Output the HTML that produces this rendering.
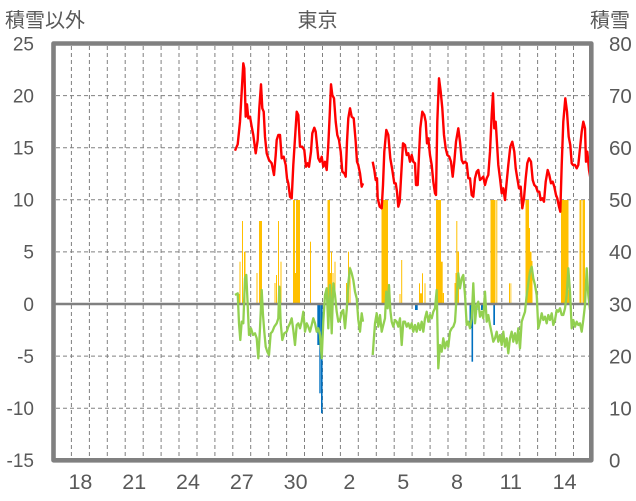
<!DOCTYPE html>
<html><head><meta charset="utf-8"><style>
html,body{margin:0;padding:0;background:#fff;}
svg{display:block;}
text{font-family:"Liberation Sans","Noto Sans CJK JP",sans-serif;fill:#595959;}
</style></head><body>
<svg width="636" height="501" viewBox="0 0 636 501" xmlns="http://www.w3.org/2000/svg">
<rect width="636" height="501" fill="#fff"/>
<text x="5" y="27" font-size="20">積雪以外</text>
<text x="317.5" y="27" font-size="20" text-anchor="middle">東京</text>
<text x="590" y="27" font-size="20">積雪</text>
<path fill="none" stroke="#808080" stroke-width="1" stroke-dasharray="4,3" d="M56 95.6H589M56 147.7H589M56 199.8H589M56 251.9H589M56 356.1H589M56 408.2H589M71.4 46V458M89.4 46V458M107.3 46V458M125.2 46V458M143.2 46V458M161.1 46V458M179 46V458M197 46V458M214.9 46V458M232.8 46V458M250.7 46V458M268.7 46V458M286.6 46V458M304.5 46V458M322.5 46V458M340.4 46V458M358.3 46V458M376.3 46V458M394.2 46V458M412.1 46V458M430.1 46V458M448 46V458M465.9 46V458M483.9 46V458M501.8 46V458M519.7 46V458M537.6 46V458M555.6 46V458M573.5 46V458"/>
<g fill="#FFC000">
<rect x="238.5" y="294" width="1" height="10"/>
<rect x="239.5" y="261.7" width="1" height="42.3"/>
<rect x="242" y="221" width="1" height="83"/>
<rect x="244" y="251.7" width="1.5" height="52.3"/>
<rect x="256.5" y="273" width="1" height="31"/>
<rect x="259" y="221" width="3" height="83"/>
<rect x="274.5" y="283" width="1" height="21"/>
<rect x="276" y="275" width="1" height="29"/>
<rect x="278" y="221" width="1" height="83"/>
<rect x="280.5" y="261.7" width="1" height="42.3"/>
<rect x="293" y="200" width="2" height="104"/>
<rect x="295" y="273" width="1" height="31"/>
<rect x="296" y="200" width="4" height="104"/>
<rect x="310" y="241.7" width="1" height="62.3"/>
<rect x="327.5" y="200" width="2.5" height="104"/>
<rect x="330" y="273" width="1" height="31"/>
<rect x="331" y="251.7" width="1" height="52.3"/>
<rect x="332.5" y="273" width="1" height="31"/>
<rect x="334.5" y="261.7" width="1" height="42.3"/>
<rect x="346" y="283" width="1" height="21"/>
<rect x="348" y="251.7" width="1" height="52.3"/>
<rect x="349.5" y="266.7" width="1" height="37.3"/>
<rect x="381.5" y="200" width="6.5" height="104"/>
<rect x="399.5" y="294" width="1" height="10"/>
<rect x="401.2" y="260" width="1" height="44"/>
<rect x="419" y="283.3" width="1" height="20.7"/>
<rect x="420" y="293.3" width="2" height="10.7"/>
<rect x="422" y="273.3" width="1" height="30.7"/>
<rect x="424.5" y="283.3" width="1" height="20.7"/>
<rect x="436" y="200" width="5" height="104"/>
<rect x="441" y="261.7" width="1.7" height="42.3"/>
<rect x="442.7" y="293" width="1.3" height="11"/>
<rect x="454.5" y="283" width="1" height="21"/>
<rect x="455.5" y="273" width="1" height="31"/>
<rect x="456.3" y="221" width="1" height="83"/>
<rect x="457.5" y="251.7" width="1.5" height="52.3"/>
<rect x="490.5" y="200" width="5" height="104"/>
<rect x="496.3" y="200" width="1" height="104"/>
<rect x="509" y="283.3" width="1" height="20.7"/>
<rect x="510.5" y="283.3" width="0.8" height="20.7"/>
<rect x="525.5" y="200" width="3.5" height="104"/>
<rect x="529" y="228" width="1" height="76"/>
<rect x="530" y="251.7" width="1.5" height="52.3"/>
<rect x="531.5" y="261" width="1" height="43"/>
<rect x="561" y="200" width="7.5" height="104"/>
<rect x="568.5" y="290" width="1" height="14"/>
<rect x="579.5" y="200" width="2" height="104"/>
<rect x="582.5" y="200" width="2.5" height="104"/>
</g>
<g fill="#0070C0">
<rect x="317.3" y="304" width="3.4" height="41"/>
<rect x="319.3" y="304" width="1.4" height="89.3"/>
<rect x="321" y="304" width="1.6" height="109.3"/>
<rect x="415" y="304" width="2.7" height="6"/>
<rect x="469.5" y="304" width="2" height="24"/>
<rect x="471.5" y="304" width="1.6" height="57.7"/>
<rect x="476" y="304" width="1.7" height="6"/>
<rect x="481" y="304" width="2" height="6"/>
<rect x="493.3" y="304" width="1.7" height="21"/>
</g>
<line x1="55" y1="304" x2="590" y2="304" stroke="#808080" stroke-width="2.6"/>
<g fill="none" stroke="#92D050" stroke-width="2.3" stroke-linejoin="round">
<polyline points="235,295 237.7,293.3 239,323.3 240.3,340 241.7,321.7 243.3,323.3 245,278.3 246.3,275 247.7,305 249,335 251,328.3 253,335 255,333.3 256.7,338.3 258.3,358.3 260,328.3 261.7,290 263,315 264.3,331.7 265.7,346.7 267.3,351.7 269,355 270.7,333.3 272.3,331.7 274.3,326.7 276.7,323.3 278.3,318.3 279.3,286.7 280.7,323.3 282.3,340 284.3,333.3 286.7,331.7 288.3,326.7 290,323.3 291.7,318.3 293.3,330 295,345 296.7,325 298.3,323.3 300,328.3 301.7,321.7 303.3,311.7 305,331.7 306.7,323.3 308.3,326.7 310,331.7 311.7,325 313.3,318.3 315,323.3 316.7,331.7 318.3,328.3 320,335 321.7,358.3 323.3,321.7 325,295 326.7,288.3 328.3,328.3 330,285 331.7,333.3 333.3,283.3 335,295 336.7,311.7 338.3,321.7 340,320 341.7,311.7 343.3,310 345,328.3 346.7,310 348.3,283.3 350,268.3 351.7,273.3 353.3,280 355,291.7 356.7,298.3 358.3,320 360,331.7 361.7,313.3 363,321.7"/>
<polyline points="372.7,355 375,323.3 376.7,313.3 378.3,326.7 380,315 381.7,331.7 383.3,325 385,318.3 386.3,291.7 387.7,308.3 389,285 390.3,310 391.7,321.7 393.3,326.7 395,320 396.7,321.7 398.3,326.7 400,318.3 401.7,345 403.3,321.7 405,321.7 406.7,326.7 408.3,323.3 410,328.3 411.7,323.3 413.3,331.7 415,325 416.7,331.7 418.3,323.3 420,330 421.7,321.7 423.3,331.7 425,318.3 426.7,311.7 428.3,321.7 430,315 431.7,318.3 433.3,311.7 435,308.3 436.7,290 437.3,318.3 438.3,368.3 440,345 441.7,351.7 443.3,338.3 445,348.3 446.7,341.7 448.3,346.7 450,331.7 451.7,328.3 453.3,326.7 455,321.7 456.7,295 458.3,273.3 460,288.3 461.7,278.3 463.3,275 465,295 466.7,325 468.3,321.7 470,328.3 471.7,318.3 473.3,283.3 475,323.3 476.7,305 478.3,301.7 480,316.7 481.7,311.7 483.3,318.3 485,291.7 486.7,321.7 488.3,315 490,325 491.7,333.3 493.3,341.7 495,338.3 496.7,331.7 498.3,341.7 500,335 501.7,345 503.3,331.7 505,346.7 506.7,338.3 508.3,353.3 510,338.3 511.7,331.7 513.3,341.7 515,333.3 516.7,343.3 518.3,328.3 520,348.3 521.7,321.7 523.3,316.7 525,311.7 526.7,295 528.3,283.3 530,271.7 531.7,266.7 533.3,278.3 535,285 536.7,295 538.3,328.3 540,321.7 541.7,313.3 543.3,320 545,316.7 546.7,323.3 548.3,315 550,320 551.7,313.3 553.3,325 555,320 556.7,310 558.3,311.7 560,308.3 561.7,315 563.3,315 565,308.3 566.7,295 568.3,268.3 570,291.7 571.7,328.3 573.3,320 575,326.7 576.7,321.7 578.3,325 580,323.3 581.7,331.7 583.3,320 585,305 586.7,268.3 588.3,295 590,310"/>
</g>
<g fill="none" stroke="#FF0000" stroke-width="2.4" stroke-linejoin="round">
<polyline points="235,150.7 237.7,144.3 240,121.7 243.3,63.3 244.3,68.3 245.7,116.7 247,104.3 248.3,118.3 250,116.7 251.7,126.7 253.3,135 255.7,153.3 257.7,140 259.3,108.3 261,84.3 262.3,108.3 263.7,111.7 265,136.7 266.7,153.3 269,160 271.7,163.3 274,175 275.7,155 276.7,140 278.3,135 280,135 281.7,158.3 283.7,156.7 285.7,165 287,178.3 288.3,183.3 290,196.7 291.7,198.3 293.3,165 295,138.3 296.7,111.7 298.3,115 300,146.7 302.3,146.7 304.3,150 306,166.7 307.7,163.3 309,166.7 311,151.7 312.3,133.3 314.3,127.7 315.7,131.7 317,145 318.3,158.3 320,161.7 321.7,156.7 323.3,166.7 325,161.7 326.7,170 328.3,145 329.7,115 331,84.3 332.3,95 334,98.3 335.7,121.7 337.3,135 339,140 340.7,151.7 342.3,171.7 344.3,173.3 345.7,176.7 347,141.7 348.3,118.3 350,108.3 351.7,116.7 353.7,118.3 355.7,141.7 357,161.7 358.3,165 360,173.3 361.7,186.7 363,183.3"/>
<polyline points="372.7,161.7 374.3,170 375.7,180 377,178.3 377.7,198.3 379.7,206.7 381.7,208.3 383,185 384.3,151.7 386.3,130 388.3,135 390.3,158.3 392.3,170 394.3,183.3 395.7,183.3 397,191.7 398.3,206.7 399.7,201.7 401,178.3 403,143.3 405,145 406.7,155 408.3,153.3 410,161.7 411.7,155 413.3,161.7 415,163.3 416,185 417.7,185 419,155 420.3,128.3 422.3,111.7 424.3,115 425.7,121.7 427,143.3 428.3,138.3 430,155 431.7,165 433.3,181.7 435,193.3 436,195 437.3,121.7 439,78.3 440.7,91.7 442.3,108.3 444,135 445.7,148.3 447.3,155 449.3,156.7 451,161.7 452.7,176.7 454.3,161.7 456,141.7 458.3,128.3 460,141.7 461.7,160 463.3,163.3 465,161.7 466.7,163.3 468.3,178.3 470,178.3 471.7,195 473.3,196.7 475,178.3 476.7,171.7 478.3,170 480,180 481.7,178.3 483.3,176.7 485,185 486.7,178.3 488.3,175 490,151.7 491.7,115 493,93.3 494.3,128.3 495.7,121.7 497,143.3 498.3,165 500,178.3 501.7,193.3 503.3,188.3 505,200 506.7,181.7 508.3,165 510.3,146.7 512.3,141.7 514.3,151.7 515.7,168.3 517.3,178.3 519,188.3 520.7,186.7 522.3,208.3 524,198.3 525.7,178.3 527.3,163.3 529,158.3 531,161.7 532.7,180 534.3,185 536,186.7 537.7,191.7 539.3,191.7 540.7,200 542.3,198.3 544,201.7 545.7,181.7 547.7,170 549.3,175 551,183.3 552.7,181.7 554.3,186.7 556,195 557.3,198.3 559,206.7 560.3,211.7 561.7,165 563.3,121.7 565.3,98.3 567,111.7 568.7,136.7 570.3,145 571.7,163.3 573,165 575,165 576.7,168.3 578.3,165 580,148.3 581.7,131.7 583.3,121.7 585,128.3 586,161.7 587.3,151.7 589,170 590.7,180"/>
</g>
<rect x="53.5" y="43.5" width="537.8" height="416.8" fill="none" stroke="#808080" stroke-width="4.6" stroke-linejoin="round"/>
<g font-size="19" text-anchor="end">
<text x="34" y="50.3">25</text>
<text x="34" y="102.4">20</text>
<text x="34" y="154.5">15</text>
<text x="34" y="206.6">10</text>
<text x="34" y="258.7">5</text>
<text x="34" y="310.8">0</text>
<text x="34" y="362.9">-5</text>
<text x="34" y="415">-10</text>
<text x="34" y="467.1">-15</text>
</g>
<g font-size="20.5">
<text x="609" y="50.8">80</text>
<text x="609" y="102.9">70</text>
<text x="609" y="155">60</text>
<text x="609" y="207.1">50</text>
<text x="609" y="259.2">40</text>
<text x="609" y="311.3">30</text>
<text x="609" y="363.4">20</text>
<text x="609" y="415.5">10</text>
<text x="609" y="467.6">0</text>
</g>
<g font-size="21.5" text-anchor="middle">
<text x="80.4" y="489">18</text>
<text x="134.2" y="489">21</text>
<text x="188" y="489">24</text>
<text x="241.8" y="489">27</text>
<text x="295.6" y="489">30</text>
<text x="349.4" y="489">2</text>
<text x="403.2" y="489">5</text>
<text x="457" y="489">8</text>
<text x="510.8" y="489">11</text>
<text x="564.6" y="489">14</text>
</g>
</svg>
</body></html>
